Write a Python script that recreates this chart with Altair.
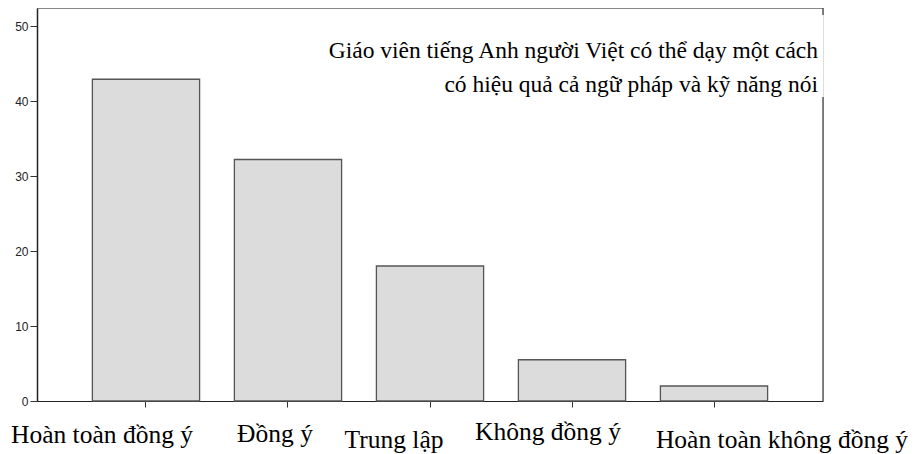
import altair as alt
import pandas as pd

categories = ["Hoàn toàn đồng ý", "Đồng ý", "Trung lập", "Không đồng ý", "Hoàn toàn không đồng ý"]
values = [42.9, 32.2, 18.0, 5.5, 2.0]
y_ticks = [0, 10, 20, 30, 40, 50]
title_lines = ["Giáo viên tiếng Anh người Việt có thể dạy một cách",
               "có hiệu quả cả ngữ pháp và kỹ năng nói"]

W, H = 786, 393
df = pd.DataFrame({"cat": categories, "val": values})

xscale = alt.Scale(domain=categories, paddingInner=0.245, paddingOuter=0.39)
yscale = alt.Scale(domain=[0, 52.4], nice=False, zero=True)

base = alt.Chart(df)

bars = base.mark_bar(fill="#dcdcdc", stroke="#555555", strokeWidth=1.3).encode(
    x=alt.X("cat:N", scale=xscale, sort=categories,
            axis=alt.Axis(title=None, labels=False, ticks=True, tickSize=6,
                          tickColor="#333333", domainColor="#222222", domainWidth=1.2)),
    y=alt.Y("val:Q", scale=yscale,
            axis=alt.Axis(title=None, values=y_ticks, grid=False, tickSize=7,
                          tickColor="#333333", domainColor="#222222", domainWidth=1.5,
                          labelFont="Liberation Sans", labelFontSize=12,
                          labelColor="#222222", labelPadding=2)),
)

# category labels placed individually like the reference
label_pos = [(-44, 435), (-13, 434), (-36, 440), (-24, 432), (68, 440)]
label_layers = []
for cat, (dx, yy) in zip(categories, label_pos):
    label_layers.append(
        alt.Chart(pd.DataFrame({"cat": [cat]})).mark_text(
            font="Liberation Serif", fontSize=25.5, color="#000000",
            align="center", baseline="alphabetic", dx=dx
        ).encode(
            x=alt.X("cat:N", scale=xscale, sort=categories),
            y=alt.value(yy),
            text="cat:N",
        )
    )

# frame lines (top and right, with a gap behind the title)
top_rule = alt.Chart(pd.DataFrame({"a": [0]})).mark_rule(color="#333333", strokeWidth=1.2).encode(
    x=alt.value(0), x2=alt.value(W), y=alt.value(0))
right_top = alt.Chart(pd.DataFrame({"a": [0]})).mark_rule(color="#333333", strokeWidth=1.2).encode(
    x=alt.value(W), y=alt.value(0), y2=alt.value(7))
right_bot = alt.Chart(pd.DataFrame({"a": [0]})).mark_rule(color="#333333", strokeWidth=1.2).encode(
    x=alt.value(W), y=alt.value(89), y2=alt.value(H))

title_df = pd.DataFrame({"t": title_lines, "yy": [50, 84]})
title = alt.Chart(title_df).mark_text(
    font="Liberation Serif", fontSize=23.5, color="#000000", align="right", baseline="alphabetic"
).encode(
    x=alt.value(781),
    y=alt.Y("yy:Q", scale=None),
    text="t:N",
)

chart = alt.layer(bars, top_rule, right_top, right_bot, title, *label_layers).properties(
    width=W, height=H,
    autosize=alt.AutoSizeParams(type="none"),
    padding={"left": 29, "top": 0, "right": 85, "bottom": 53},
).configure_view(stroke=None).configure(background="white")

chart.save("out.html", embed_options={"renderer": "svg", "actions": False})
